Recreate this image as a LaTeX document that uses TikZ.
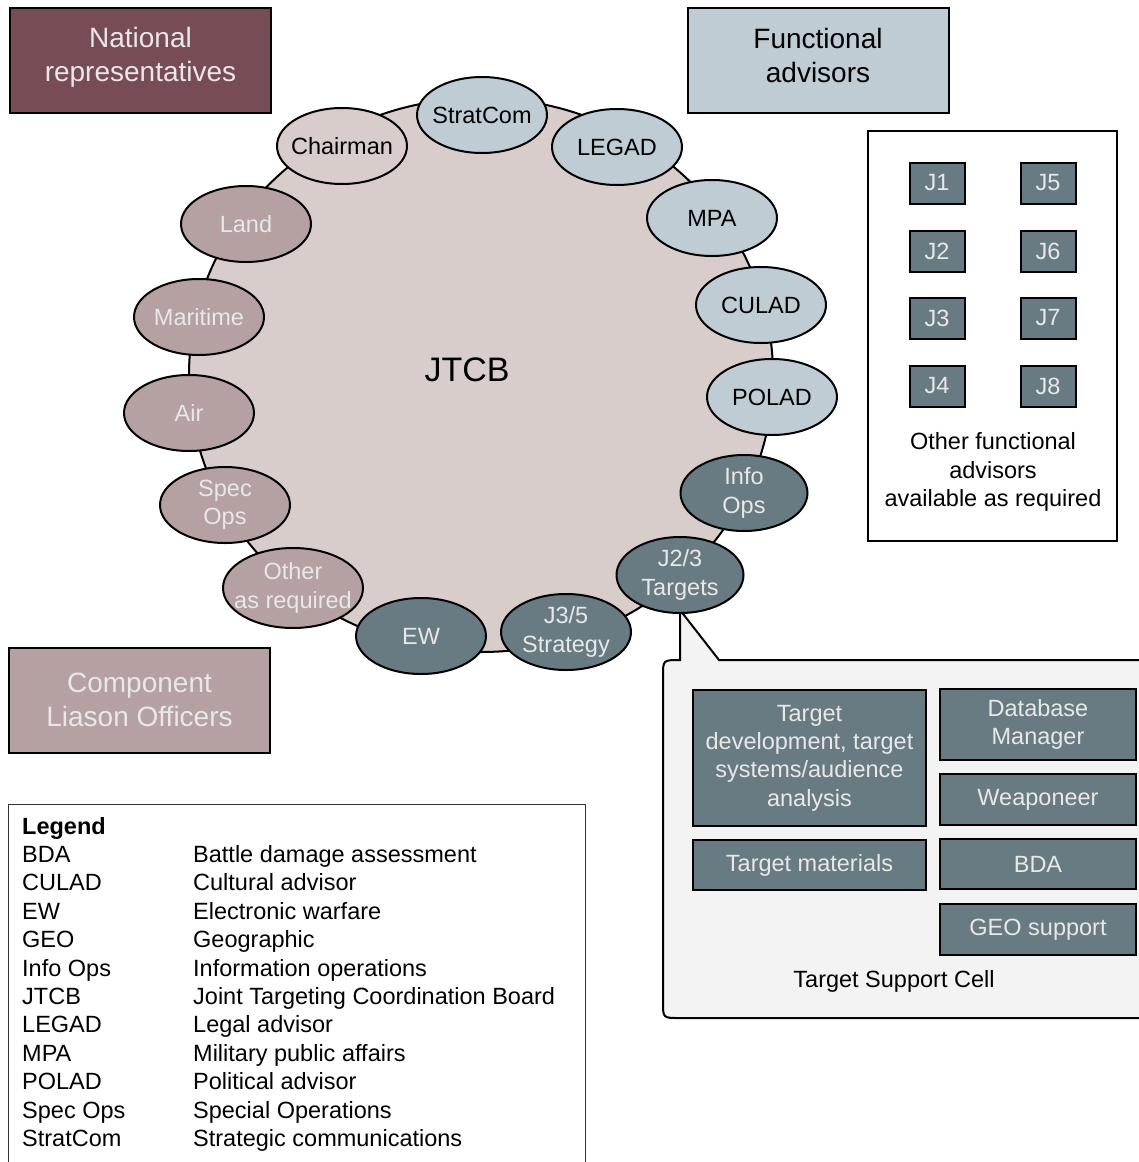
\documentclass[tikz,border=0pt]{standalone}
\usepackage{fontspec}
\setmainfont{Liberation Sans}
\usetikzlibrary{shapes.geometric}
\definecolor{cMaroon}{HTML}{774C54}
\definecolor{cRose}{HTML}{B5A0A2}
\definecolor{cPale}{HTML}{D9CDCB}
\definecolor{cBlue}{HTML}{C0CCD3}
\definecolor{cSlate}{HTML}{687B82}
\definecolor{cCell}{HTML}{F2F3F2}
\definecolor{cLight}{HTML}{E8E8E8}
\newcommand\fsN{\fontsize{23.5pt}{28.4pt}\selectfont}
\newcommand\fsT{\fontsize{28pt}{34pt}\selectfont}
\newcommand\fsB{\fontsize{34pt}{40pt}\selectfont}
\begin{document}
\begin{tikzpicture}[x=1pt,y=-1pt,
  ell/.style={ellipse, draw=black, line width=2pt, minimum width=130pt, minimum height=76pt, inner xsep=-9pt, inner ysep=0pt, align=center, font=\fsN},
  ellPale/.style={ell, fill=cPale, text=black},
  ellRose/.style={ell, fill=cRose, text=cLight},
  ellBlue/.style={ell, fill=cBlue, text=black},
  ellSlate/.style={ell, fill=cSlate, text=cLight},
  titlebox/.style={draw=black, line width=2pt, minimum width=261pt, minimum height=105pt, inner sep=0pt},
  titletext/.style={inner sep=0pt, align=center, font=\fsT},
  jbox/.style={draw=black, line width=2pt, fill=cSlate, text=cLight, minimum width=55pt, minimum height=41pt, inner sep=0pt, font=\fsN},
  tbox/.style={draw=black, line width=2pt, fill=cSlate, text=cLight, inner sep=0pt, align=center, font=\fsN},
  plain/.style={inner sep=0pt, align=center, font=\fsN},
]
\useasboundingbox (0,0) rectangle (1139,1162);
\clip (0,0) rectangle (1139,1162);

% central board
\node[ellipse, draw=black, line width=2pt, fill=cPale, minimum width=584pt, minimum height=554pt, inner sep=0pt] (board) at (481,375) {};
\node[inner sep=0pt, font=\fsB] (jtcb) at (467,370) {JTCB};

% title boxes
\node[titlebox, fill=cMaroon] (natrep) at (140.5,60.5) {};
\node[titletext, text=cLight] (natreptext) at (140.5,57.5) {National\\representatives};
\node[titlebox, fill=cBlue] (funcadv) at (818,60.5) {};
\node[titletext, text=black] (funcadvtext) at (818,55.5) {Functional\\advisors};
\node[titlebox, fill=cRose] (comp) at (139.5,700.5) {};
\node[titletext, text=cLight] (comptext) at (139.5,699.5) {Component\\Liason Officers};

% target support cell callout
\coordinate (tip) at (680,610);
\draw[line width=2pt, fill=cCell] (tip) -- (719,660) -- (1170,660) -- (1170,1018) -- (679,1018)
  .. controls (663,1018) .. (663,1002) -- (663,676) .. controls (663,660) .. (680,660) -- cycle;

% ring of members
\node[ellPale] (chair) at (342,146) {Chairman};
\node[ellBlue] (strat) at (482,115) {StratCom};
\node[ellBlue] (legad) at (617,147) {LEGAD};
\node[ellBlue] (mpa) at (712,218) {MPA};
\node[ellBlue] (culad) at (761,305) {CULAD};
\node[ellBlue] (polad) at (772,397) {POLAD};
\node[ellSlate, minimum width=127pt] (info) at (744,493) {Info\\Ops};
\node[ellSlate, minimum width=127pt] (j23) at (680,575) {J2/3\\Targets};
\node[ellSlate] (j35) at (566,632) {J3/5\\Strategy};
\node[ellSlate] (ew) at (421,636) {EW};
\node[ellRose, minimum width=140pt, minimum height=80pt, inner xsep=-12pt] (other) at (293,588) {Other\\as required};
\node[ellRose] (spec) at (225,505) {Spec\\Ops};
\node[ellRose] (air) at (189,413) {Air};
\node[ellRose] (mar) at (199,317) {Maritime};
\node[ellRose] (land) at (246,224) {Land};

% other functional advisors
\node[draw=black, line width=2pt, minimum width=249pt, minimum height=410pt, inner sep=0pt] (ofa) at (992.5,336) {};
\node[jbox] (j1) at (937,183) {J1};
\node[jbox] (j5) at (1048,183) {J5};
\node[jbox] (j2) at (937,251) {J2};
\node[jbox] (j6) at (1048,251) {J6};
\node[jbox] (j3) at (937,318) {J3};
\node[jbox] (j7) at (1048,318) {J7};
\node[jbox] (j4) at (937,386) {J4};
\node[jbox] (j8) at (1048,386) {J8};
\node[plain] (ofatext) at (993,472) {Other functional\\advisors\\available as required};

% target support cell contents
\node[tbox, minimum width=233pt, minimum height=136pt] (tdev) at (809.5,758) {Target\\development, target\\systems/audience\\analysis};
\node[tbox, minimum width=233pt, minimum height=50pt] (tmat) at (809.5,865) {Target materials};
\node[tbox, minimum width=196pt, minimum height=71pt] (dbm) at (1038,724.5) {Database\\Manager};
\node[tbox, minimum width=196pt, minimum height=51pt] (weap) at (1038,799.5) {Weaponeer};
\node[tbox, minimum width=196pt, minimum height=50pt] (bda) at (1038,864) {BDA};
\node[tbox, minimum width=196pt, minimum height=51pt] (geo) at (1038,929.5) {GEO support};
\node[plain] (tsc) at (894,981) {Target Support Cell};

% legend
\node[draw=gray!40!black, line width=1.3pt, minimum width=577pt, minimum height=380pt, inner sep=0pt, anchor=north west] (legendbox) at (8,804) {};
\node[anchor=north west, inner sep=0pt, font=\fsN, align=left] (legend) at (22,814) {%
\begin{tabular}{@{}p{171pt}@{}l@{}}
\textbf{Legend} & \\
BDA & Battle damage assessment\\
CULAD & Cultural advisor\\
EW & Electronic warfare\\
GEO & Geographic\\
Info Ops & Information operations\\
JTCB & Joint Targeting Coordination Board\\
LEGAD & Legal advisor\\
MPA & Military public affairs\\
POLAD & Political advisor\\
Spec Ops & Special Operations\\
StratCom & Strategic communications
\end{tabular}};
\end{tikzpicture}
\end{document}
